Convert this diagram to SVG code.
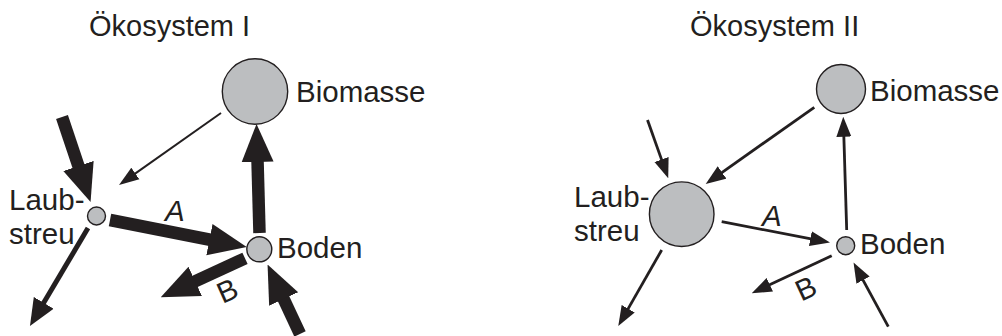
<svg xmlns="http://www.w3.org/2000/svg" width="1002" height="336" viewBox="0 0 1002 336">
<style>
text{font-family:"Liberation Sans",Arial,sans-serif;font-size:29.5px;fill:#231f20}
.title{font-size:29px}
.it{font-style:italic}
.node{fill:#bcbec0;stroke:#231f20;stroke-width:1.4}
.thick{stroke:#231f20;stroke-width:12.5;fill:none;marker-end:url(#hThick)}
.med{stroke:#231f20;stroke-width:5;fill:none;marker-end:url(#hMed)}
.thin{stroke:#231f20;stroke-width:2;fill:none;marker-end:url(#hThin)}
.thin2{stroke:#231f20;stroke-width:2.8;fill:none;marker-end:url(#hThin2)}
</style>
<defs>
<marker id="hThick" markerUnits="userSpaceOnUse" viewBox="0 -17 38 34" refX="2" refY="0" markerWidth="38" markerHeight="34" orient="auto"><path d="M0,-16 L38,0 L0,16 Z" fill="#231f20"/></marker>
<marker id="hMed" markerUnits="userSpaceOnUse" viewBox="0 -12 27 24" refX="2" refY="0" markerWidth="27" markerHeight="24" orient="auto"><path d="M0,-11.5 L27,0 L0,11.5 Z" fill="#231f20"/></marker>
<marker id="hThin" markerUnits="userSpaceOnUse" viewBox="0 -8 20 16" refX="2" refY="0" markerWidth="20" markerHeight="16" orient="auto"><path d="M0,-7 L20,0 L0,7 Z" fill="#231f20"/></marker>
<marker id="hThin2" markerUnits="userSpaceOnUse" viewBox="0 -8 20 16" refX="2" refY="0" markerWidth="20" markerHeight="16" orient="auto"><path d="M0,-7.5 L20,0 L0,7.5 Z" fill="#231f20"/></marker>
</defs>

<text class="title" x="89" y="36">Ökosystem I</text>
<text class="title" x="690" y="36">Ökosystem II</text>

<g id="connectors">
<g id="conn-left">
<path class="thin" d="M221,113 L133.7,174.6"/>
<path class="thick" d="M62,117 L79.1,167.9"/>
<path class="thick" d="M110,220 L211.4,240"/>
<path class="thick" d="M259.5,233 L257.5,160"/>
<path class="med" d="M88,228 L42.7,304.5"/>
<path class="thick" d="M245,258.3 L193.4,282.2"/>
<path class="thick" d="M300,334 L282.8,297.2"/>
</g>
<g id="conn-right">
<path class="thin2" d="M814.3,107.3 L720.4,173.6"/>
<path class="thin2" d="M647.5,120 L662.2,161.4"/>
<path class="thin2" d="M721.7,221.7 L812.3,239.1"/>
<path class="thin2" d="M846.7,230 L843.8,134.7"/>
<path class="thin2" d="M661.7,250 L627.2,310.4"/>
<path class="thin2" d="M831.7,255.7 L768,285.6"/>
<path class="thin2" d="M888.3,326.7 L862.1,278.3"/>
</g>
</g>

<g id="labels">
<text class="it" x="165" y="221">A</text>
<g transform="translate(227.5,290.8) rotate(-24)"><text x="0" y="10" text-anchor="middle">B</text></g>
<text class="it" x="762" y="226">A</text>
<text transform="translate(806,288.5) rotate(-25)" x="0" y="10" text-anchor="middle">B</text>
</g>

<g id="biomasse-1"><circle class="node" cx="255" cy="91.5" r="32.7"/><text x="296" y="102">Biomasse</text></g>
<g id="laubstreu-1"><circle class="node" cx="96.5" cy="216" r="9"/><text x="9" y="210">Laub-</text><text x="9" y="244">streu</text></g>
<g id="boden-1"><circle class="node" cx="259.3" cy="249.3" r="12.5"/><text x="277" y="257.5">Boden</text></g>

<g id="biomasse-2"><circle class="node" cx="841" cy="89" r="24.5"/><text x="870" y="101">Biomasse</text></g>
<g id="laubstreu-2"><circle class="node" cx="681.7" cy="214.2" r="32.3"/><text x="574" y="207">Laub-</text><text x="574" y="241">streu</text></g>
<g id="boden-2"><circle class="node" cx="845.7" cy="245.7" r="9"/><text x="860" y="254">Boden</text></g>
</svg>
